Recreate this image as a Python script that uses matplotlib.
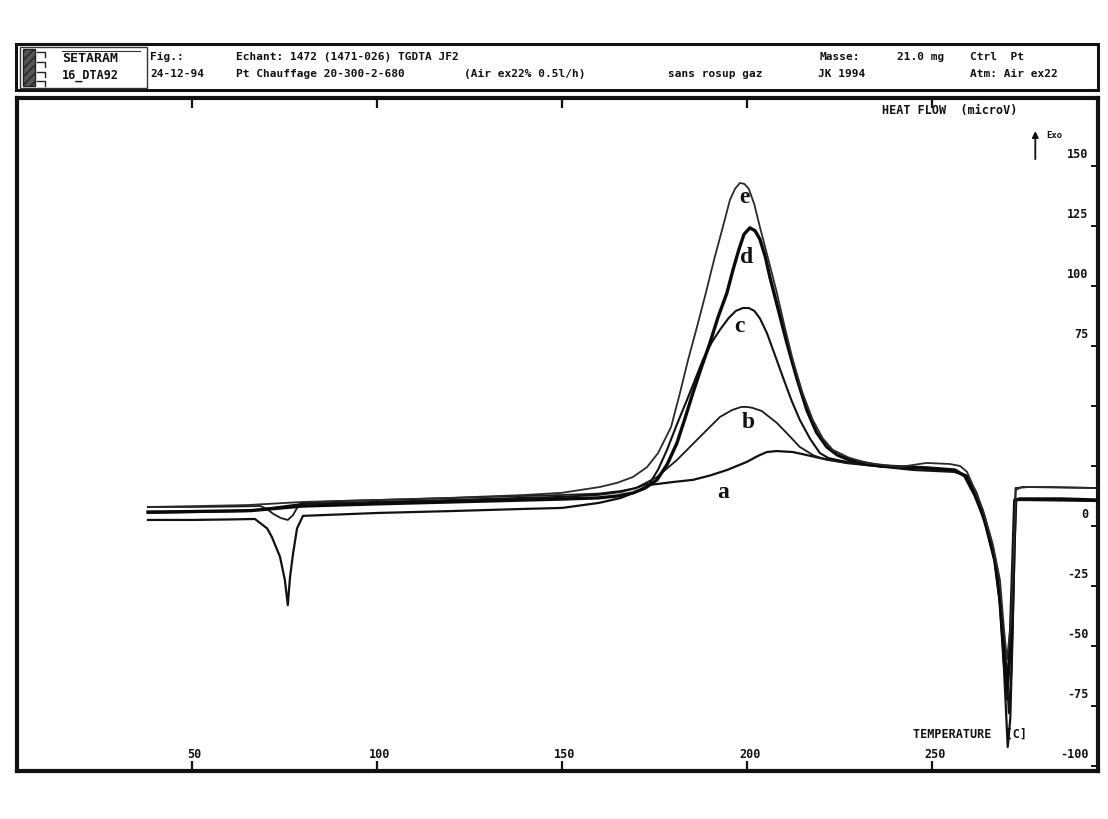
import matplotlib
matplotlib.use("Agg")
import matplotlib.pyplot as plt
from matplotlib.patches import Rectangle

# ---------------- data ----------------
temp_a = [38.1, 50, 60, 67.0, 70.3, 71.6, 73.8, 75.1, 75.9, 76.5, 77.3, 78.4, 80, 100, 120, 140, 150, 160, 166, 170,
          173.8, 180, 185.4, 190, 194.6, 200, 203, 205.4, 208, 212.4, 216, 219.7, 227, 235, 245, 252, 256, 259.5, 262, 264,
          266, 267.8, 269.2, 270.5, 271.2, 271.8, 272.3, 272.8, 275.7, 285, 294.6]
flow_a = [2.5, 2.5, 2.7, 2.9, -1.0, -4.6, -12.9, -22.5, -33.0, -21.3, -11.7, -1.0, 4.2, 5.4, 6.2, 7.1, 7.5, 9.6, 11.7, 14.2,
          17.1, 18.3, 19.2, 21.0, 23.3, 26.7, 29.2, 30.8, 31.2, 30.8, 29.6, 28.3, 26.2, 25.0, 24.2, 23.3, 22.9, 20.8, 14.0, 5.0,
          -6.0, -20.0, -50.0, -92.1, -80.0, -45.0, -10.0, 10.8, 10.8, 10.6, 10.4]

temp_b = [38.1, 50, 62, 68.5, 70.3, 72.0, 74.0, 75.9, 77.3, 78.4, 79.5, 90, 110, 130, 150, 160, 166, 170, 175.7, 181.1,
          187.3, 192.7, 196, 198.5, 200, 201.5, 204, 208.1, 211, 214.3, 218, 221.6, 228, 240, 250, 256, 259.5, 262, 264.5, 267,
          269, 270.3, 271.3, 272.0, 272.6, 276, 285, 294.6]
flow_b = [7.9, 7.9, 8.1, 8.3, 7.0, 5.0, 3.3, 2.5, 4.5, 7.5, 9.6, 10.4, 11.2, 12.1, 12.9, 13.5, 14.6, 15.8, 20.4, 27.5,
          37.1, 45.4, 48.3, 49.6, 49.6, 49.2, 47.9, 42.9, 38.3, 32.9, 29.4, 27.5, 26.2, 24.6, 23.8, 23.3, 21.0, 13.0, 2.0, -14.0,
          -40.0, -72.5, -50.0, -10.0, 15.8, 16.2, 16.0, 15.8]

temp_c = [38.1, 50, 65, 80, 100, 120, 140, 150, 160, 166, 170, 173.8, 176, 178.4, 181, 183.8, 186, 188.1, 190.5, 192.7,
          195, 197, 198.9, 200.5, 202, 203.5, 205.4, 207.5, 209.7, 212, 214.3, 217, 219.7, 222, 225, 232, 245, 256, 259.5, 262,
          264.5, 267, 269, 270.2, 270.8, 271.5, 272.2, 272.7, 275, 285, 294.6]
flow_c = [5.4, 5.8, 6.2, 9.2, 10.0, 10.8, 11.7, 12.1, 13.0, 14.2, 15.8, 17.9, 23.5, 31.7, 42.0, 52.5, 61.0, 69.2, 76.5, 81.7,
          86.5, 89.6, 90.8, 90.8, 89.6, 86.5, 80.4, 71.5, 62.1, 52.5, 44.2, 36.5, 30.4, 28.3, 27.3, 25.4, 23.3, 22.5, 20.8, 12.5,
          0.0, -15.0, -40.0, -60.0, -78.0, -60.0, -20.0, 10.8, 11.25, 11.0, 10.8]

temp_d = [38.1, 50, 66, 80, 100, 120, 140, 150, 160, 165, 169.2, 172.5, 175.7, 178.5, 181.1, 183.2, 185.4, 187.8, 190.0, 192.2,
          194.6, 196.2, 197.8, 199.2, 200.8, 202.2, 203.5, 205.0, 206.2, 208.5, 210.8, 213.5, 216.2, 218.8, 221.6, 224.5, 227.8,
          236, 248.6, 256.2, 258.9, 261.6, 264.3, 267, 268.4, 269.5, 270.3, 271.1, 271.9, 272.4, 273.8, 285, 294.6]
flow_d = [5.8, 6.0, 6.4, 8.3, 9.2, 10.0, 10.8, 11.2, 11.7, 12.5, 13.75, 15.8, 19.2, 25.8, 34.6, 44.5, 55.4, 66.5, 76.25, 87.0,
          97.1, 106.5, 115.0, 121.5, 124.2, 123.0, 119.5, 112.0, 103.75, 90.0, 76.25, 61.5, 48.3, 39.0, 32.9, 29.5, 27.5,
          25.0, 24.2, 23.3, 20.8, 12.9, 2.5, -14.2, -30.8, -55.8, -68.3, -51.7, -14.2, 10.8, 11.25, 11.25, 10.8]

temp_e = [38.1, 52, 65, 80, 100, 120, 140, 150, 160.3, 165, 169.2, 173, 176.0, 179.5, 181.9, 184.1, 186.5, 188.9, 191.1, 193.5,
          195.4, 196.8, 198.1, 199.3, 200.5, 202.0, 203.5, 205.8, 208.1, 210.2, 212.4, 215.0, 217.8, 220.5, 223.2, 227.5, 232.4,
          241.4, 248.6, 254.9, 257.6, 259.5, 261.6, 263.8, 266.5, 268.4, 269.5, 270.3, 271.4, 272.2, 272.7, 274.3, 281.9, 294.6]
flow_e = [7.9, 8.3, 8.7, 10.0, 10.8, 11.7, 12.9, 13.8, 16.25, 18.0, 20.4, 24.5, 30.4, 41.25, 55.4, 69.2, 82.9, 97.1, 110.8, 124.6,
          135.8, 140.5, 142.9, 142.5, 140.5, 134.0, 124.6, 111.0, 97.1, 83.0, 69.2, 55.5, 44.2, 36.5, 31.7, 28.5, 26.25,
          24.6, 26.25, 25.8, 25.0, 22.5, 15.0, 6.7, -7.9, -22.5, -43.3, -55.8, -39.2, -5.8, 15.0, 16.25, 16.25, 15.8]

curve_names = ["a", "b", "c", "d", "e"]
label_pos = {"a": (193.5, 14.0), "b": (200.3, 42.9), "c": (198.1, 83.0), "d": (200.0, 111.7), "e": (199.2, 137.0)}

x_ticks = [50, 100, 150, 200, 250]
y_ticks = [-100, -75, -50, -25, 0, 25, 50, 75, 100, 125, 150]
y_tick_labels = {-100: "-100", -75: "-75", -50: "-50", -25: "-25", 0: "0", 75: "75", 100: "100", 125: "125", 150: "150"}

header_row1 = [(150, "Fig.:"), (236, "Echant: 1472 (1471-026) TGDTA JF2"), (820, "Masse:"), (897, "21.0 mg"),
               (970, "Ctrl  Pt")]
header_row2 = [(150, "24-12-94"), (236, "Pt Chauffage 20-300-2-680"), (464, "(Air ex22% 0.5l/h)"),
               (668, "sans rosup gaz"), (818, "JK 1994"), (970, "Atm: Air ex22")]

# ---------------- figure ----------------
W, H = 1108, 819
fig = plt.figure(figsize=(W / 100, H / 100), dpi=100)
fig.patch.set_facecolor("white")

mono = dict(family="DejaVu Sans Mono", weight="bold", color="#111111")

# header box (pixel coordinates)
hax = fig.add_axes([16 / W, 1 - 90 / H, 1082 / W, 46 / H])
hax.set_xlim(16, 1098)
hax.set_ylim(90, 44)
hax.axis("off")
hax.add_patch(Rectangle((16, 44), 1082, 46, fill=False, lw=2.2, ec="#111111", clip_on=False))
hax.add_patch(Rectangle((20, 47), 127, 41, fill=False, lw=1.0, ec="#333333", clip_on=False))
hax.add_patch(Rectangle((23, 49), 12, 37, fc="#555555", ec="#222222", lw=1.0, hatch="////", clip_on=False))
for yy in (52, 62, 72, 81):
    hax.plot([37, 45, 45], [yy, yy, yy + 5], color="#222222", lw=1.0, clip_on=False)
hax.text(62, 58, "SETARAM", fontsize=9.5, va="center", ha="left", **mono)
hax.plot([62, 140], [51, 51], color="#333333", lw=0.8)
hax.text(62, 75, "16_DTA92", fontsize=8.5, va="center", ha="left", **mono)
for x, s in header_row1:
    hax.text(x, 57, s, fontsize=8, va="center", ha="left", **mono)
for x, s in header_row2:
    hax.text(x, 74, s, fontsize=8, va="center", ha="left", **mono)

# main plot
ax = fig.add_axes([17 / W, 1 - 771 / H, 1081 / W, 673 / H])
ax.set_xlim(2.7, 294.9)
ax.set_ylim(-102.1, 178.3)
for sp in ax.spines.values():
    sp.set_linewidth(3)
    sp.set_color("#111111")

ax.set_xticks(x_ticks)
ax.set_xticklabels([])
ax.tick_params(axis="x", direction="in", length=7, width=1.6, top=True, bottom=True, colors="#111111")
ax.set_yticks(y_ticks)
ax.set_yticklabels([])
ax.tick_params(axis="y", direction="in", length=5, width=1.4, left=False, right=True, colors="#111111")

for t in x_ticks:
    ax.annotate(str(t), xy=(t, 0), xycoords=("data", "axes fraction"), xytext=(2, 12),
                textcoords="offset points", ha="center", va="center", fontsize=8.5, **mono)
for v, s in y_tick_labels.items():
    ax.annotate(s, xy=(1, v), xycoords=("axes fraction", "data"), xytext=(-7, 8),
                textcoords="offset points", ha="right", va="center", fontsize=8.5, **mono)

ax.text(0.829, 0.055, "TEMPERATURE  [C]", transform=ax.transAxes, fontsize=8.5, ha="left", va="center", **mono)
ax.text(0.8, 0.982, "HEAT FLOW  (microV)", transform=ax.transAxes, fontsize=8.5, ha="left", va="center", **mono)
ax.annotate("", xy=(0.942, 0.955), xytext=(0.942, 0.905), xycoords="axes fraction",
            arrowprops=dict(arrowstyle="-|>", color="#111111", lw=1.3, mutation_scale=9))
ax.text(0.952, 0.945, "Exo", transform=ax.transAxes, fontsize=6.5, ha="left", va="center", **mono)

series = {
    "a": (temp_a, flow_a, 1.6, "#111111"),
    "b": (temp_b, flow_b, 1.3, "#1a1a1a"),
    "c": (temp_c, flow_c, 1.5, "#111111"),
    "d": (temp_d, flow_d, 2.4, "#0a0a0a"),
    "e": (temp_e, flow_e, 1.3, "#2a2a2a"),
}
for name in curve_names:
    t, f, lw, col = series[name]
    ax.plot(t, f, color=col, lw=lw, solid_joinstyle="round", zorder=3)

for name in curve_names:
    x, y = label_pos[name]
    ax.text(x, y, name, fontsize=17, fontweight="bold", family="Liberation Serif",
            ha="center", va="center", color="#111111", zorder=4)

fig.savefig("out.png", dpi=100, facecolor="white")
